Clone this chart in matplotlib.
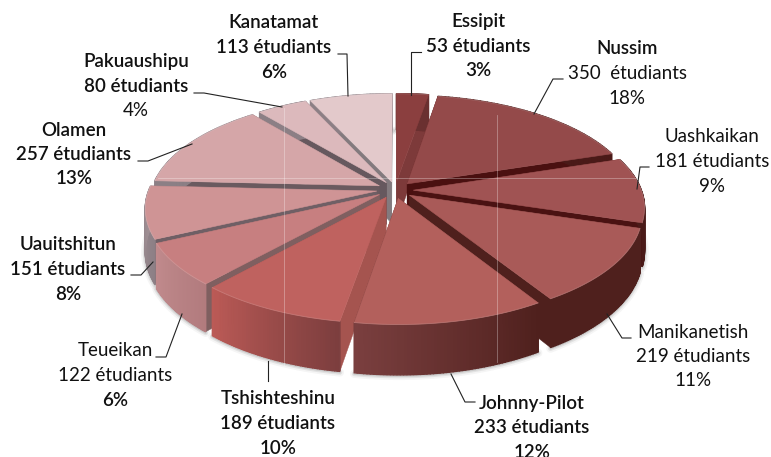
import numpy as np
import matplotlib
matplotlib.use("Agg")
import matplotlib.pyplot as plt
from matplotlib.colors import to_rgb
plt.rcParams['font.family'] = ['Lato', 'DejaVu Sans']

# slices, clockwise from the top
names = ['Essipit', 'Nussim', 'Uashkaikan', 'Manikanetish', 'Johnny-Pilot', 'Tshishteshinu',
         'Teueikan', 'Uauitshitun', 'Olamen', 'Pakuaushipu', 'Kanatamat']
students = [53, 350, 181, 219, 233, 189, 122, 151, 257, 80, 113]
percents = ['3%', '18%', '9%', '11%', '12%', '10%', '6%', '8%', '13%', '4%', '6%']
count_text = ['53 étudiants', '350  étudiants', '181 étudiants', '219 étudiants', '233 étudiants', '189 étudiants',
              '122 étudiants', '151 étudiants', '257 étudiants', '80 étudiants', '113 étudiants']

# colours
tops = ['#8b3f3f', '#944a4a', '#a05353', '#a95a58', '#b3605c', '#bf625f',
        '#c77f80', '#cf9495', '#d5a6a8', '#dcb9bc', '#e3c9cb']
walls = ['#7d3a3a', '#4a1010', '#4a1212', '#4f201d', '#5a2a28', '#a5544f',
         '#7f5f60', '#6f5f65', '#6a5a5f', '#66585e', '#837a7e']
arc_a = ['#6a3030', '#4a1a18', '#4a1a18', '#4f201d', '#4f201d', '#7c3e3e',
         '#b27b7e', '#8c7f85', '#8c7f85', '#8c7f85', '#8c7f85']
arc_b = ['#6a3030', '#4a1a18', '#4a1a18', '#4f201d', '#7a3f3f', '#bb5a56',
         '#c08a8c', '#a08f94', '#8c7f85', '#8c7f85', '#8c7f85']

# label layout: centre x, centre y of each line, weights of the lines, leader line
label_x = [478, 627, 712, 693, 532, 278, 115, 68, 74, 136, 274]
label_y = [22, 49, 137, 332, 403, 399, 351, 245, 130, 62, 23]
weights = [('semibold', 'semibold', 'semibold'), ('semibold', 'normal', 'normal'), ('normal', 'normal', 'normal'),
           ('normal', 'normal', 'normal'), ('semibold', 'semibold', 'semibold'), ('semibold', 'semibold', 'semibold'),
           ('normal', 'normal', 'semibold'), ('semibold', 'semibold', 'semibold'), ('semibold', 'semibold', 'semibold'),
           ('semibold', 'semibold', 'normal'), ('semibold', 'semibold', 'semibold')]
leaders = [[(421, 52), (411, 52), (411, 95)], [(563, 79), (553, 79), (534, 114)],
           [(649, 167), (640, 167), (637, 189)], [(631, 338), (622, 338), (607, 314)],
           [(475, 402), (465, 402), (451, 374)], [(268, 381), (268, 361)],
           [(156, 357), (166, 357), (182, 314)], [(131, 275), (141, 275), (153, 262)],
           [(138, 161), (148, 161), (192, 144)], [(194, 93), (204, 93), (282, 107)],
           [(338, 54), (347, 54), (348, 96)]]

# pie geometry in pixels
cx, cy = 395, 190
rx, ry = 228, 104
depth = 42
persp = 0.154
explode = 0.08
# the 3D view turns the rim a little against the true angles (degrees)
warp_at = [0, 74, 108, 148, 191, 226, 277, 340, 360]
warp_by = [0, 2.5, 0.5, 0, 2, 5, 4, 3.5, 0]


def project(u, v):
    w = 1 / (1 + persp * v)
    return cx + rx * u * w, cy - ry * v * w, depth * w


def view_angle(a):
    return a - np.radians(np.interp(np.degrees(a), warp_at, warp_by))


fig = plt.figure(figsize=(7.71, 4.57), dpi=100)
ax = fig.add_axes([0, 0, 1, 1])
ax.set_xlim(0, 771)
ax.set_ylim(457, 0)
ax.axis('off')

edges = np.cumsum([0] + students) / sum(students) * 2 * np.pi
mids = (edges[:-1] + edges[1:]) / 2
order = list(np.argsort(-np.cos(mids)))

# back slices first so the front ones cover them
for i in order:
    a = view_angle(np.linspace(edges[i], edges[i + 1], 60))
    du, dv = explode * np.sin(mids[i]), explode * np.cos(mids[i])
    x, y, h = project(np.sin(a) + du, np.cos(a) + dv)
    x0, y0, h0 = project(du, dv)
    # soft shadow under the rim
    for lw, al in [(6, 0.05), (3.5, 0.10), (1.5, 0.15)]:
        ax.plot(x, y + h + 1, color='#444444', lw=lw, alpha=al, zorder=1, solid_capstyle='round')
    z = 2 + order.index(i) * 3
    # radial walls
    for k in (0, -1):
        ax.fill([x0, x[k], x[k], x0], [y0, y[k], y[k] + h[k], y0 + h0], color=walls[i], lw=0.3, zorder=z)
    # outer side with a gradient along the rim
    c1, c2 = np.array(to_rgb(arc_a[i])), np.array(to_rgb(arc_b[i]))
    for j in range(len(a) - 1):
        c = c1 + (c2 - c1) * j / (len(a) - 2)
        ax.fill([x[j], x[j + 1], x[j + 1], x[j]], [y[j], y[j + 1], y[j + 1] + h[j + 1], y[j] + h[j]],
                color=c, lw=1.0, zorder=z)
    # top face
    ax.fill(np.r_[x0, x], np.r_[y0, y], color=tops[i], lw=0.4, zorder=z + 1)
    ax.plot(x, y, color='white', lw=0.7, alpha=0.15, zorder=z + 1)

# pale seams across the picture
ax.plot([158, 640], [178, 178], color='white', lw=0.6, alpha=0.35, zorder=60)
ax.plot([284, 284], [108, 365], color='white', lw=0.6, alpha=0.35, zorder=60)
ax.plot([497, 497], [115, 362], color='white', lw=0.6, alpha=0.35, zorder=60)

for i in range(len(names)):
    lines = [names[i], count_text[i], percents[i]]
    for n in range(3):
        ax.text(label_x[i], label_y[i] + n * 24.5, lines[n], ha='center', va='center', fontsize=13.5,
                fontweight=weights[i][n], color='#111111', zorder=70)
    px, py = zip(*leaders[i])
    ax.plot(px, py, color='#222222', lw=0.8, zorder=65)

fig.savefig('out.png', dpi=100)
